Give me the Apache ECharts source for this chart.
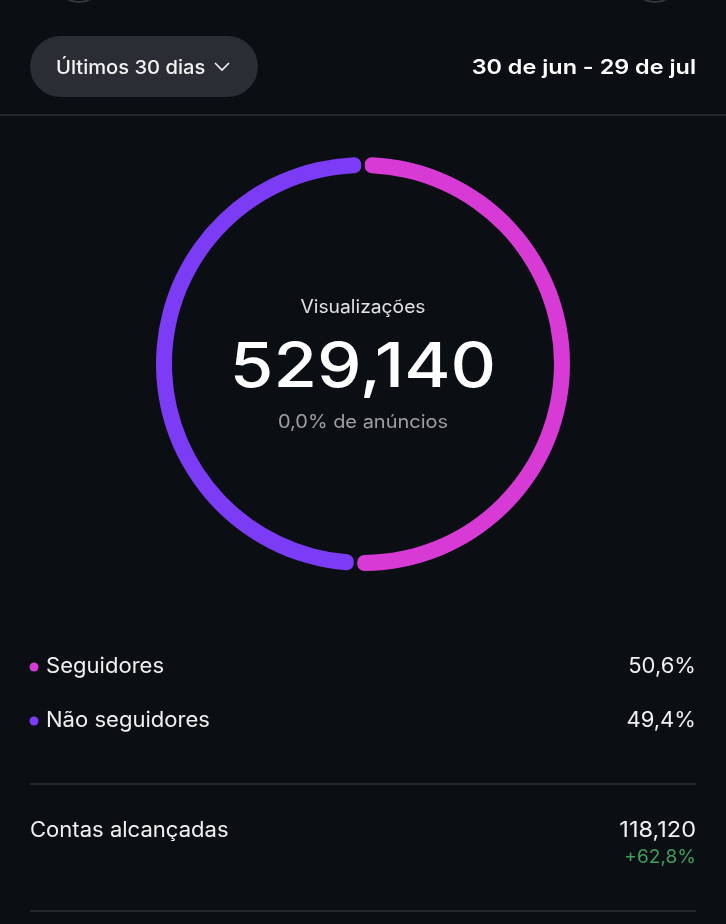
<!DOCTYPE html>
<html><head><meta charset="utf-8">
<script src="https://cdn.jsdelivr.net/npm/echarts@6/dist/echarts.min.js"></script>
<style>html,body{margin:0;padding:0;background:#0b0e13;}#c{width:726px;height:924px;}</style>
</head><body><div id="c"></div>
<script>
const categories = ['Seguidores', 'Não seguidores'];
const shares = [50.6, 49.4];
const shareLabels = ['50,6%', '49,4%'];
const sliceColors = ['#d83ad5', '#7c3cf6'];
const totalViews = '529,140';
const adsShare = '0,0% de anúncios';
const reachLabel = 'Contas alcançadas';
const reachValue = '118,120';
const reachChange = '+62,8%';
const periodLabel = 'Últimos 30 dias';
const dateRange = '30 de jun - 29 de jul';

const F = 'Inter, Roboto, "Noto Sans", sans-serif';
const chart = echarts.init(document.getElementById('c'), null, {renderer: 'canvas'});
const W = 726;
const legendY = [667, 721];
function txt(x, y, text, fill, font, align, sx) {
  return {type:'text', x:x, y:y, scaleX:sx || 1, style:{text:text, fill:fill, font:font, align:align || 'left', verticalAlign:'middle'}};
}
const graphic = [
  {type:'circle', shape:{cx:79, cy:-22, r:24}, style:{fill:'none', stroke:'#34373c', lineWidth:2}},
  {type:'circle', shape:{cx:655, cy:-22, r:24}, style:{fill:'none', stroke:'#34373c', lineWidth:2}},
  {type:'rect', shape:{x:30, y:36, width:228, height:61, r:30.5}, style:{fill:'#2a2d33'}},
  txt(56, 68, periodLabel, '#f2f2f2', '500 19px '+F, 'left', 1.06),
  {type:'polyline', shape:{points:[[215,63],[222,70],[229,63]]}, style:{stroke:'#f2f2f2', lineWidth:1.6, fill:'none'}},
  txt(696, 68, dateRange, '#ffffff', '600 20px '+F, 'right', 1.17),
  {type:'rect', shape:{x:0, y:114, width:W, height:2}, style:{fill:'#24272c'}},
  txt(363, 308, 'Visualizações', '#e2e2e4', '18px '+F, 'center', 1.07),
  txt(363, 368, totalViews, '#ffffff', '500 62px '+F, 'center', 1.14),
  txt(363, 423, adsShare, '#9c9ea3', '18px '+F, 'center', 1.11),
  {type:'rect', shape:{x:30, y:783, width:666, height:2}, style:{fill:'#24272c'}},
  txt(30, 831, reachLabel, '#f0f0f0', '21px '+F, 'left', 1.05),
  txt(696, 831, reachValue, '#f0f0f0', '21px '+F, 'right', 1.12),
  txt(696, 858, reachChange, '#3f9d5f', '18px '+F, 'right', 1.06),
  {type:'rect', shape:{x:30, y:910, width:666, height:2}, style:{fill:'#24272c'}}
];
categories.forEach((c, i) => {
  graphic.push({type:'circle', shape:{cx:34, cy:legendY[i], r:4.5}, style:{fill:sliceColors[i]}});
  graphic.push(txt(46, legendY[i], c, '#f0f0f0', '21px '+F, 'left', 1.05));
  graphic.push(txt(696, legendY[i], shareLabels[i], '#f0f0f0', '21px '+F, 'right', 1.05));
});

chart.setOption({
  backgroundColor:'#0b0e13',
  animation:false,
  series:[{
    type:'pie',
    center:[363, 364],
    radius:[191, 207],
    startAngle:90,
    clockwise:true,
    padAngle:1,
    minAngle:0,
    label:{show:false},
    labelLine:{show:false},
    silent:true,
    itemStyle:{borderRadius:7},
    data: categories.map((c, i) => ({name:c, value:shares[i], itemStyle:{color:sliceColors[i]}}))
  }],
  graphic: graphic
});
</script></body></html>
